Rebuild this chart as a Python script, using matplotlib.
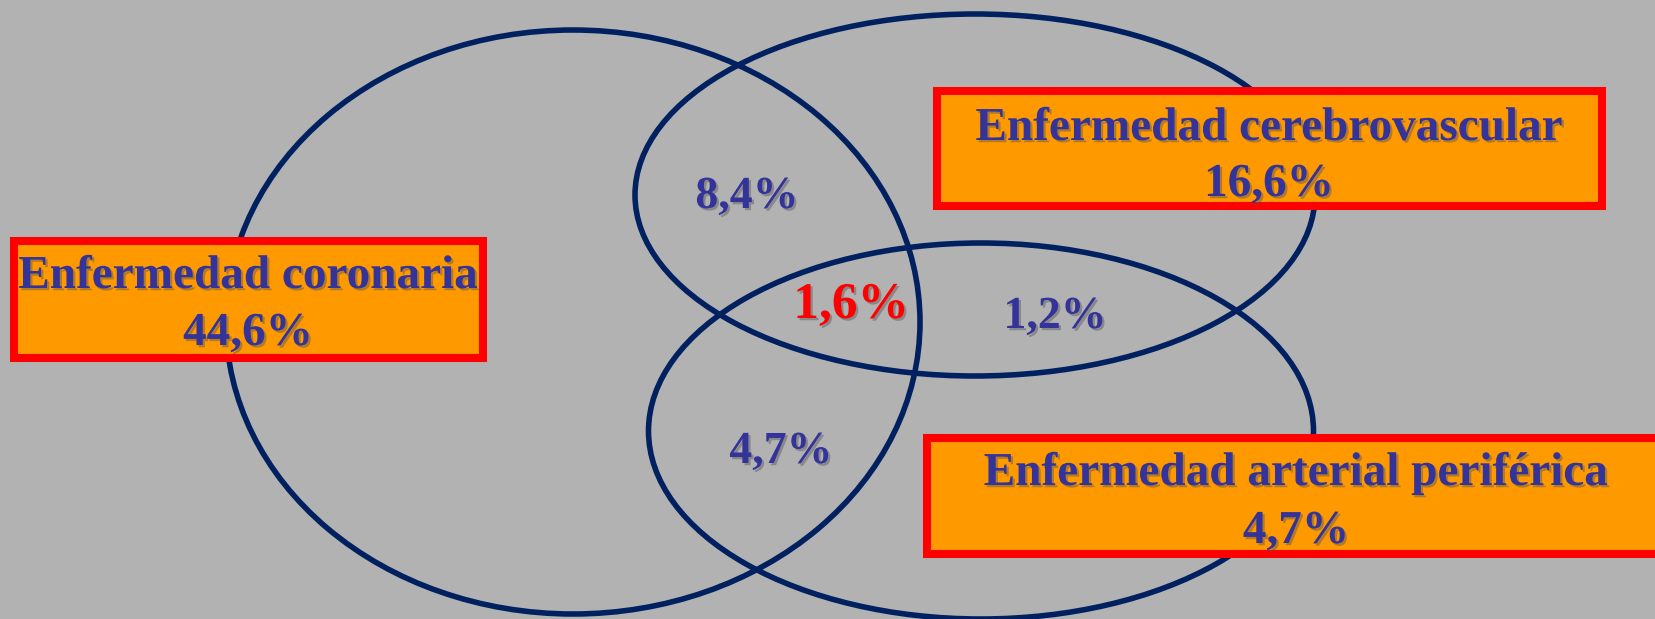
import matplotlib
matplotlib.use("Agg")
import matplotlib.pyplot as plt
import matplotlib.patheffects as pe
from matplotlib.patches import Ellipse, Rectangle

# Data: groups and overlap percentages
groups = ["Enfermedad coronaria", "Enfermedad cerebrovascular", "Enfermedad arterial periférica"]
group_pct = [44.6, 16.6, 4.7]
overlap_names = ["coronaria+cerebro", "todas", "cerebro+periferica", "coronaria+periferica"]
overlap_pct = [8.4, 1.6, 1.2, 4.7]

def fmt(v):
    return f"{v:.1f}%".replace(".", ",")

# Layout (pixel coords, y down)
W, H = 1656, 619
ellipses = [(573, 322, 694, 584), (975, 195, 680, 362), (981, 431, 665, 376)]
boxes = [(14, 241, 469, 117), (937, 91, 665, 115), (927, 438, 740, 116)]
box_text = [(248, 288, 345, 34), (1269, 140, 196, 34), (1296, 485, 543, 34)]
overlap_pos = [(747, 208), (851, 318), (1055, 328), (781, 463)]
overlap_size = [33, 37, 33, 33]
overlap_color = ["#333399", "#ff0000", "#333399", "#333399"]

bg = "#b2b2b2"
navy = "#002060"
text_col = "#333399"
shadow = [pe.SimplePatchShadow(offset=(1.6, -1.6), shadow_rgbFace="#555555", alpha=0.45), pe.Normal()]

fig = plt.figure(figsize=(W / 100, H / 100), dpi=100, facecolor=bg)
ax = fig.add_axes([0, 0, 1, 1])
ax.set_xlim(0, W)
ax.set_ylim(H, 0)
ax.set_facecolor(bg)
ax.axis("off")

for cx, cy, w, h in ellipses:
    ax.add_patch(Ellipse((cx, cy), w, h, fill=False, edgecolor=navy, lw=4, zorder=1))

font = dict(family="Liberation Serif", weight="bold", ha="center", va="baseline")

for (x, y, w, h), name, pct, (tx, y1, y2, fs) in zip(boxes, groups, group_pct, box_text):
    ax.add_patch(Rectangle((x, y), w, h, facecolor="#ff9900", edgecolor="#ff0000",
                           lw=5.8, zorder=2, clip_on=False))
    ax.text(tx, y1, name, fontsize=fs, color=text_col, zorder=3, path_effects=shadow, **font)
    ax.text(tx, y2, fmt(pct), fontsize=fs, color=text_col, zorder=3, path_effects=shadow, **font)

for (x, y), v, fs, col in zip(overlap_pos, overlap_pct, overlap_size, overlap_color):
    ax.text(x, y, fmt(v), fontsize=fs, color=col, zorder=3, path_effects=shadow, **font)

fig.savefig("out.png", dpi=100, facecolor=bg)
